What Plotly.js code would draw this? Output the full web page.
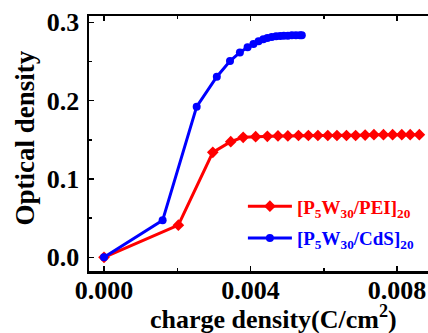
<!DOCTYPE html>
<html>
<head>
<meta charset="utf-8">
<script src="https://cdn.plot.ly/plotly-3.0.1.min.js"></script>
<style>html,body{margin:0;padding:0;background:#fff;}#chart{width:428px;height:333px;}</style>
</head>
<body>
<div id="chart"></div>
<script>
// PEI series
var peiX = [0, 0.00203, 0.00297, 0.00346, 0.0038, 0.00414, 0.00446, 0.00475, 0.00502, 0.00531, 0.00558, 0.00584, 0.00611, 0.00636, 0.00662, 0.00687, 0.00713, 0.00737, 0.00763, 0.00788, 0.00813, 0.00836, 0.00861];
var peiY = [0, 0.041, 0.134, 0.1476, 0.1532, 0.154, 0.1545, 0.155, 0.155, 0.1555, 0.1555, 0.1555, 0.1555, 0.1555, 0.1555, 0.1555, 0.156, 0.1565, 0.1565, 0.1565, 0.1565, 0.1565, 0.1565];
// CdS series
var cdsX = [0, 0.0016, 0.00253, 0.00308, 0.00344, 0.00371, 0.00392, 0.00408, 0.00422, 0.00435, 0.00446, 0.00458, 0.0047, 0.00481, 0.00491, 0.00502, 0.00513, 0.00524, 0.00535, 0.0054];
var cdsY = [0, 0.0472, 0.1923, 0.2306, 0.2506, 0.2615, 0.2681, 0.2723, 0.2758, 0.2783, 0.28, 0.2812, 0.2821, 0.2825, 0.2829, 0.2829, 0.2834, 0.2834, 0.2834, 0.2834];
var seriesNames = ['[P<sub>5</sub>W<sub>30</sub>/PEI]<sub>20</sub>', '[P<sub>5</sub>W<sub>30</sub>/CdS]<sub>20</sub>'];
var xTitle = 'charge density(C/cm<sup>2</sup>)';
var yTitle = 'Optical density';

var serif = 'Liberation Serif';
var traces = [
  {x: peiX, y: peiY, type: 'scatter', mode: 'lines+markers', legendgroup: 'a',
   name: '<span style="color:#ff0000">' + seriesNames[0] + '</span>',
   line: {color: '#ff0000', width: 3},
   marker: {symbol: 'diamond', size: 9, color: '#ff0000'}},
  {x: cdsX, y: cdsY, type: 'scatter', mode: 'lines+markers', legendgroup: 'b',
   name: '<span style="color:#0000ff">' + seriesNames[1] + '</span>',
   line: {color: '#0000ff', width: 3},
   marker: {symbol: 'circle', size: 8, color: '#0000ff'}}
];
var layout = {
  width: 428, height: 333,
  margin: {l: 89, r: 0, t: 16, b: 62},
  paper_bgcolor: '#fff', plot_bgcolor: '#fff',
  font: {family: serif, color: '#000', weight: 'bold'},
  showlegend: true,
  legend: {x: 0.454, y: 0.328, xanchor: 'left', yanchor: 'top', bgcolor: 'rgba(0,0,0,0)',
           font: {family: serif, size: 19, weight: 'bold'}, itemwidth: 44, tracegroupgap: 4},
  xaxis: {range: [-0.00041, 0.008846], dtick: 0.004, tick0: 0, tickformat: '.3f',
          showline: true, linewidth: 2.5, linecolor: '#000', mirror: 'allticks',
          ticks: 'inside', ticklen: 5, tickwidth: 1.5, tickcolor: '#000',
          minor: {dtick: 0.002, ticks: 'inside', ticklen: 3, tickwidth: 1.5, tickcolor: '#000'},
          showgrid: false, zeroline: false, ticklabelstandoff: -6,
          tickfont: {family: serif, size: 26, weight: 'bold', color: '#000'}},
  yaxis: {range: [-0.01749, 0.30805], dtick: 0.1, tick0: 0, tickformat: '.1f',
          showline: true, linewidth: 2.5, linecolor: '#000', mirror: false,
          ticks: 'inside', ticklen: 5, tickwidth: 1.5, tickcolor: '#000',
          minor: {dtick: 0.05, ticks: 'inside', ticklen: 3, tickwidth: 1.5, tickcolor: '#000'},
          showgrid: false, zeroline: false, ticklabelstandoff: 2,
          tickfont: {family: serif, size: 26, weight: 'bold', color: '#000'}},
  annotations: [
    {text: xTitle, xref: 'paper', yref: 'paper', x: (273 - 89) / 339, y: -0.183,
     xanchor: 'center', yanchor: 'middle', showarrow: false,
     font: {family: serif, size: 26, weight: 'bold', color: '#000'}},
    {text: yTitle, xref: 'paper', yref: 'paper', x: (24 - 89) / 339, y: (271 - 138.5) / 255,
     xanchor: 'center', yanchor: 'middle', showarrow: false, textangle: -90,
     font: {family: serif, size: 27, weight: 'bold', color: '#000'}}
  ]
};
Plotly.newPlot('chart', traces, layout, {displayModeBar: false, staticPlot: true});
</script>
</body>
</html>
